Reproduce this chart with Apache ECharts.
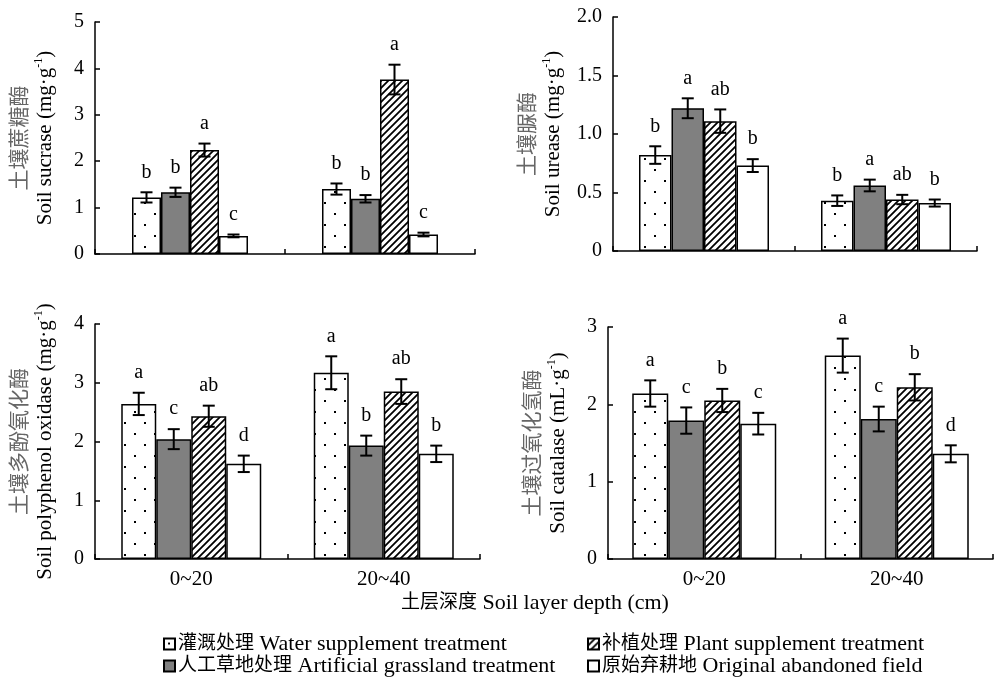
<!DOCTYPE html>
<html>
<head>
<meta charset="utf-8">
<script src="https://cdn.jsdelivr.net/npm/echarts@6/dist/echarts.min.js"></script>
<style>html,body{margin:0;padding:0;background:#fff}#c{width:996px;height:682px}</style>
</head>
<body>
<div id="c"></div>
<script>
// ---------- data ----------
const categories = ['0~20', '20~40'];
const seriesCn = ['灌溉处理', '人工草地处理', '补植处理', '原始弃耕地'];
const seriesEn = ['Water supplement treatment', 'Artificial grassland treatment',
                  'Plant supplement treatment', 'Original abandoned field'];
const seriesNames = seriesCn.map((c, i) => c + ' ' + seriesEn[i]);
// rows: water, grass, plant, original ; columns: categories
const sucraseMean = [[1.22, 1.40], [1.33, 1.19], [2.24, 3.76], [0.39, 0.42]];
const sucraseErr  = [[0.11, 0.12], [0.10, 0.08], [0.14, 0.32], [0.03, 0.04]];
const sucraseLetters = [['b', 'b'], ['b', 'b'], ['a', 'a'], ['c', 'c']];

const ureaseMean = [[0.82, 0.43], [1.22, 0.56], [1.11, 0.44], [0.73, 0.41]];
const ureaseErr  = [[0.075, 0.045], [0.085, 0.05], [0.10, 0.04], [0.055, 0.03]];
const ureaseLetters = [['b', 'b'], ['a', 'a'], ['ab', 'ab'], ['b', 'b']];

const polyMean = [[2.64, 3.17], [2.04, 1.93], [2.43, 2.85], [1.62, 1.79]];
const polyErr  = [[0.19, 0.28], [0.17, 0.17], [0.18, 0.21], [0.14, 0.14]];
const polyLetters = [['a', 'a'], ['c', 'b'], ['ab', 'ab'], ['d', 'b']];

const catalaseMean = [[2.14, 2.63], [1.79, 1.81], [2.05, 2.22], [1.75, 1.36]];
const catalaseErr  = [[0.17, 0.22], [0.17, 0.16], [0.15, 0.17], [0.14, 0.11]];
const catalaseLetters = [['a', 'a'], ['c', 'c'], ['b', 'b'], ['c', 'd']];

// ---------- styling ----------
const FONT = '"Liberation Serif","Times New Roman","Noto Sans CJK SC",serif';

function makeDots() {
  const c = document.createElement('canvas');
  c.width = 20; c.height = 22;
  const g = c.getContext('2d');
  g.fillStyle = '#fff'; g.fillRect(0, 0, 20, 22);
  g.fillStyle = '#000';
  g.fillRect(4, 4, 2, 2);
  g.fillRect(14, 15, 2, 2);
  return c;
}
function makeHatch() {
  const s = 7;
  const c = document.createElement('canvas');
  c.width = s; c.height = s;
  const g = c.getContext('2d');
  g.fillStyle = '#fff'; g.fillRect(0, 0, s, s);
  g.strokeStyle = '#000'; g.lineWidth = 1.8;
  g.beginPath();
  g.moveTo(-1, s + 1); g.lineTo(s + 1, -1);
  g.moveTo(-2, 2); g.lineTo(2, -2);
  g.moveTo(s - 2, s + 2); g.lineTo(s + 2, s - 2);
  g.stroke();
  return c;
}
const fills = [
  { image: makeDots(), repeat: 'repeat' },
  '#808080',
  { image: makeHatch(), repeat: 'repeat' },
  '#ffffff'
];

const panels = [
  { grid: { left: 95, top: 22, width: 380, height: 232 }, max: 5, interval: 1, bw: 29,
    mean: sucraseMean, err: sucraseErr, letters: sucraseLetters,
    cn: '土壤蔗糖酶', en: 'Soil sucrase (mg·g', showX: false, gap: 37, dec: 0 },
  { grid: { left: 613, top: 17, width: 364, height: 234 }, max: 2, interval: 0.5, bw: 32.5,
    mean: ureaseMean, err: ureaseErr, letters: ureaseLetters,
    cn: '土壤脲酶', en: 'Soil urease (mg·g', showX: false, gap: 47, dec: 1 },
  { grid: { left: 95, top: 324, width: 385, height: 235 }, max: 4, interval: 1, bw: 35,
    mean: polyMean, err: polyErr, letters: polyLetters,
    cn: '土壤多酚氧化酶', en: 'Soil polyphenol oxidase (mg·g', showX: true, gap: 37, dec: 0 },
  { grid: { left: 608, top: 327, width: 385, height: 232 }, max: 3, interval: 1, bw: 36,
    mean: catalaseMean, err: catalaseErr, letters: catalaseLetters,
    cn: '土壤过氧化氢酶', en: 'Soil catalase (mL·g', showX: true, gap: 37, dec: 0 }
];

const grids = [], xAxes = [], yAxes = [], series = [];
panels.forEach((p, pi) => {
  grids.push(p.grid);
  xAxes.push({
    type: 'category', gridIndex: pi, data: categories,
    axisLine: { lineStyle: { color: '#000', width: 1.5 } },
    axisTick: { show: true, inside: true, length: 5, lineStyle: { color: '#000', width: 1.5 } },
    axisLabel: { show: p.showX, color: '#000', fontFamily: FONT, fontSize: 21, margin: 10 },
    splitLine: { show: false }
  });
  yAxes.push({
    type: 'value', gridIndex: pi, min: 0, max: p.max, interval: p.interval,
    axisLine: { show: true, lineStyle: { color: '#000', width: 1.5 } },
    axisTick: { show: true, inside: true, length: 5, lineStyle: { color: '#000', width: 1.5 } },
    axisLabel: { color: '#000', fontFamily: FONT, fontSize: 20, margin: 11,
      formatter: v => (v === 0 ? '0' : v.toFixed(p.dec)) },
    splitLine: { show: false },
    name: '{cn|' + p.cn + '}\n{en|' + p.en + '}{sup|-1}{en|)}',
    nameLocation: 'middle', nameRotate: 90, nameGap: p.gap,
    nameTextStyle: {
      fontFamily: FONT, fontSize: 21, color: '#000', lineHeight: 25,
      rich: {
        cn: { fontFamily: FONT, fontSize: 21, color: '#666', lineHeight: 25 },
        en: { fontFamily: FONT, fontSize: 21, color: '#000', lineHeight: 25 },
        sup: { fontFamily: FONT, fontSize: 12, color: '#000', lineHeight: 25, verticalAlign: 'top', padding: [0, 0, 10, 0] }
      }
    }
  });
  seriesNames.forEach((nm, k) => {
    series.push({
      type: 'bar', name: nm, xAxisIndex: pi, yAxisIndex: pi,
      data: p.mean[k], barWidth: p.bw, barGap: '0%',
      itemStyle: { color: fills[k], borderColor: '#000', borderWidth: 1.5 },
      emphasis: { disabled: true }, animation: false
    });
  });
  const edata = [];
  for (let k = 0; k < 4; k++) for (let c = 0; c < categories.length; c++) {
    edata.push([c, p.mean[k][c], p.err[k][c], k]);
  }
  series.push({
    type: 'custom', xAxisIndex: pi, yAxisIndex: pi, z: 5, silent: true, animation: false,
    data: edata, encode: { x: 0, y: 1 },
    renderItem: (params, api) => {
      const c = api.value(0), m = api.value(1), e = api.value(2), k = api.value(3);
      const cx = api.coord([c, m])[0] + (k - 1.5) * p.bw;
      const yt = api.coord([c, m + e])[1];
      const yb = api.coord([c, m - e])[1];
      const hw = 6;
      const ls = { stroke: '#000', lineWidth: 2 };
      return {
        type: 'group',
        children: [
          { type: 'line', shape: { x1: cx, y1: yt, x2: cx, y2: yb }, style: ls },
          { type: 'line', shape: { x1: cx - hw, y1: yt, x2: cx + hw, y2: yt }, style: ls },
          { type: 'line', shape: { x1: cx - hw, y1: yb, x2: cx + hw, y2: yb }, style: ls },
          { type: 'text', x: cx, y: yt - 10,
            style: { text: p.letters[k][c], align: 'center', verticalAlign: 'bottom',
              fontFamily: FONT, fontSize: 20, fill: '#000' } }
        ]
      };
    }
  });
});

function legendAt(i, left, top) {
  return {
    left: left, top: top, orient: 'horizontal',
    itemWidth: 11, itemHeight: 11, itemGap: 0, icon: 'rect', selectedMode: false,
    data: [seriesNames[i]],
    itemStyle: { borderColor: '#000', borderWidth: 2 },
    formatter: name => {
      const j = seriesNames.indexOf(name);
      return '{cn|' + seriesCn[j] + '} {en|' + seriesEn[j] + '}';
    },
    textStyle: {
      fontFamily: FONT, fontSize: 22, color: '#000', padding: [0, 0, 0, -2], lineHeight: 22,
      rich: {
        cn: { fontFamily: FONT, fontSize: 19, color: '#000', lineHeight: 22 },
        en: { fontFamily: FONT, fontSize: 22, color: '#000', lineHeight: 22 }
      }
    }
  };
}

const option = {
  backgroundColor: '#fff',
  animation: false,
  grid: grids,
  xAxis: xAxes,
  yAxis: yAxes,
  legend: [
    legendAt(0, 158, 628),
    legendAt(1, 158, 650),
    legendAt(2, 582, 628),
    legendAt(3, 582, 650)
  ],
  graphic: [{
    type: 'text', x: 535, y: 603,
    style: {
      text: '{cn|土层深度} {en|Soil layer depth (cm)}', align: 'center', verticalAlign: 'middle',
      fontFamily: FONT, fontSize: 22, fill: '#000',
      rich: {
        cn: { fontFamily: FONT, fontSize: 19, fill: '#000' },
        en: { fontFamily: FONT, fontSize: 22, fill: '#000' }
      }
    }
  }],
  series: series
};

const chart = echarts.init(document.getElementById('c'), null, { renderer: 'canvas' });
chart.setOption(option);
</script>
</body>
</html>
